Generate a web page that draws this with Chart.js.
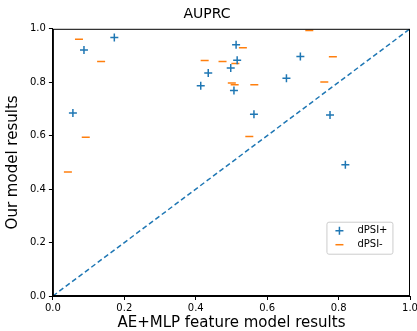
<!DOCTYPE html>
<html>
<head>
<meta charset="utf-8">
<script src="https://cdn.jsdelivr.net/npm/chart.js@4.4.0/dist/chart.umd.min.js"></script>
<style>
  html, body { margin: 0; padding: 0; background: #fff; }
  #wrap { width: 417px; height: 331px; }
</style>
</head>
<body>
<div id="wrap"><canvas id="auprc"></canvas></div>
<script>
var plusX = [0.172, 0.087, 0.056, 0.435, 0.414, 0.498, 0.513, 0.516, 0.507, 0.693, 0.654, 0.563, 0.776, 0.819];
var plusY = [0.967, 0.921, 0.685, 0.835, 0.787, 0.853, 0.940, 0.882, 0.769, 0.896, 0.815, 0.680, 0.677, 0.491];
var minusX = [0.073, 0.135, 0.092, 0.042, 0.425, 0.475, 0.532, 0.511, 0.501, 0.509, 0.718, 0.784, 0.760, 0.564, 0.550];
var minusY = [0.961, 0.878, 0.594, 0.464, 0.881, 0.878, 0.929, 0.870, 0.797, 0.791, 0.994, 0.895, 0.801, 0.791, 0.597];
var diagonal = [0, 1];
var tickValues = [0, 0.2, 0.4, 0.6, 0.8, 1.0];

function pairs(xs, ys) {
  return xs.map(function (x, i) { return { x: x, y: ys[i] }; });
}

var blue = "#1f77b4";
var orange = "#ff7f0e";
var font = "'DejaVu Sans', sans-serif";

// frame + legend drawn inside the axes, matplotlib style
var framePlugin = {
  id: "frame",
  afterDatasetsDraw: function (chart) {
    var a = chart.chartArea, ctx = chart.ctx;
    ctx.save();
    ctx.strokeStyle = "#000";
    ctx.lineWidth = 1;
    ctx.strokeRect(a.left + 0.5, a.top + 0.5, a.right - a.left - 1, a.bottom - a.top - 1);

    var bx = a.left + 0.766 * (a.right - a.left);
    var by = a.top + 0.722 * (a.bottom - a.top);
    var bw = 66, bh = 32;
    ctx.fillStyle = "rgba(255,255,255,0.8)";
    ctx.strokeStyle = "#ccc";
    ctx.beginPath();
    ctx.roundRect(bx + 0.5, by + 0.5, bw, bh, 2);
    ctx.fill();
    ctx.stroke();

    ctx.lineWidth = 1.5;
    ctx.strokeStyle = blue;
    ctx.beginPath();
    ctx.moveTo(bx + 9, by + 9); ctx.lineTo(bx + 17, by + 9);
    ctx.moveTo(bx + 13, by + 5); ctx.lineTo(bx + 13, by + 13);
    ctx.stroke();
    ctx.strokeStyle = orange;
    ctx.beginPath();
    ctx.moveTo(bx + 9, by + 23); ctx.lineTo(bx + 17, by + 23);
    ctx.stroke();

    ctx.fillStyle = "#000";
    ctx.font = "10px " + font;
    ctx.textBaseline = "middle";
    ctx.fillText(chart.data.datasets[0].label, bx + 31, by + 9);
    ctx.fillText(chart.data.datasets[1].label, bx + 31, by + 23);
    ctx.restore();
  }
};

var axisCommon = {
  type: "linear",
  min: 0,
  max: 1,
  afterBuildTicks: function (scale) {
    scale.ticks = tickValues.map(function (v) { return { value: v }; });
  },
  grid: { display: true, drawOnChartArea: false, drawTicks: true, tickLength: 4, color: "#000", tickColor: "#000" },
  border: { display: true, color: "#000" },
  ticks: { color: "#000", font: { family: font, size: 10 }, padding: 3, maxRotation: 0,
           callback: function (v) { return v.toFixed(1); } }
};

new Chart("auprc", {
  type: "scatter",
  data: {
    datasets: [
      {
        label: "dPSI+",
        data: pairs(plusX, plusY),
        pointStyle: "cross",
        pointRadius: 4,
        borderColor: blue,
        backgroundColor: blue,
        borderWidth: 1.5
      },
      {
        label: "dPSI-",
        data: pairs(minusX, minusY),
        pointStyle: "line",
        pointRadius: 4,
        borderColor: orange,
        backgroundColor: orange,
        borderWidth: 1.5
      },
      {
        type: "line",
        label: "diag",
        data: pairs(diagonal, diagonal),
        borderColor: blue,
        borderWidth: 1.5,
        borderDash: [5, 3],
        pointRadius: 0,
        fill: false
      }
    ]
  },
  options: {
    responsive: true,
    maintainAspectRatio: false,
    animation: false,
    layout: { padding: { top: 2, right: 7, bottom: 1, left: 4 } },
    plugins: {
      legend: { display: false },
      tooltip: { enabled: false },
      title: {
        display: true,
        text: "AUPRC",
        color: "#000",
        font: { family: font, size: 14, weight: "normal" },
        padding: { top: 4, bottom: 6 }
      }
    },
    scales: {
      x: Object.assign({}, axisCommon, {
        afterFit: function (scale) { scale.paddingRight = 0; },
        ticks: Object.assign({}, axisCommon.ticks, { padding: 2 }),
        title: { display: true, text: "AE+MLP feature model results", color: "#000",
                 font: { family: font, size: 15 }, padding: { top: -2, bottom: -2 } }
      }),
      y: Object.assign({}, axisCommon, {
        title: { display: true, text: "Our model results", color: "#000",
                 font: { family: font, size: 15 }, padding: { top: 0, bottom: 5 } }
      })
    }
  },
  plugins: [framePlugin]
});
</script>
</body>
</html>
